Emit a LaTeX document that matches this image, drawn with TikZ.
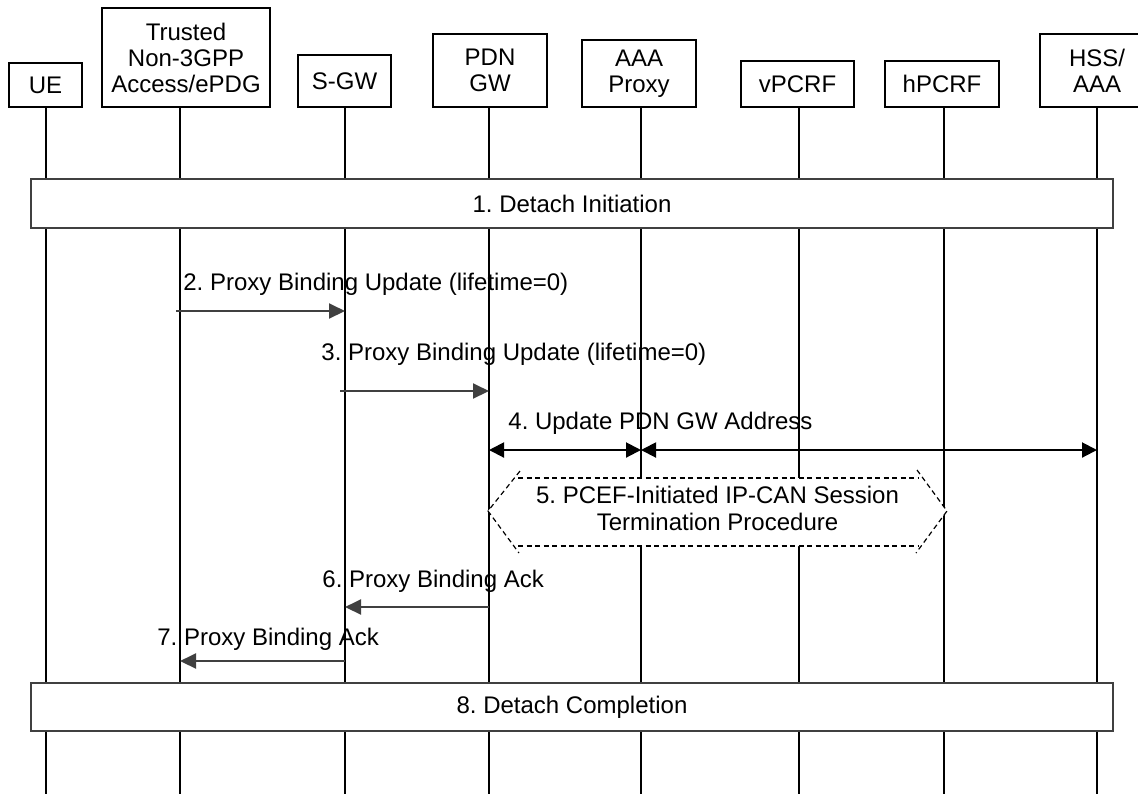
\documentclass[tikz,border=0pt]{standalone}
\usepackage{fontspec}
\setmainfont{Liberation Sans}
\usetikzlibrary{arrows.meta}
\definecolor{dgray}{RGB}{64,64,64}
\frenchspacing
\begin{document}
\frenchspacing
\begin{tikzpicture}[x=0.5pt,y=-0.5pt,
  font=\fontsize{12pt}{13pt}\selectfont\frenchspacing,
  actor/.style={draw=black, line width=0.6pt, fill=white, align=center, inner sep=0pt},
  life/.style={line width=0.6pt, black},
  phase/.style={draw=dgray, line width=0.6pt, fill=white, inner sep=0pt, minimum width=541pt},
  msg/.style={dgray, line width=1pt, -{Triangle[length=8pt,width=7.5pt]}},
  dmsg/.style={black, line width=1pt, {Triangle[length=7.5pt,width=7.5pt]}-{Triangle[length=7.5pt,width=7.5pt]}},
  hexd/.style={black, line width=0.6pt, dash pattern=on 2.5pt off 1.75pt},
  lbl/.style={anchor=base west, inner sep=0pt}]

\useasboundingbox (0,0) rectangle (1138,794);
\clip (0,0) rectangle (1138,794);

% lifeline tops
\coordinate (lUE) at (46,107);
\coordinate (lTr) at (180,107);
\coordinate (lSG) at (345,107);
\coordinate (lPG) at (489,107);
\coordinate (lAP) at (641,107);
\coordinate (lVP) at (799,107);
\coordinate (lHP) at (944,107);
\coordinate (lHS) at (1097,107);
\coordinate (bot) at (0,794);

\foreach \n in {lUE,lTr,lSG,lPG,lAP,lVP,lHP,lHS}
  \draw[life] (\n) -- (\n |- bot);

% header boxes
\node[actor, minimum width=36.5pt, minimum height=22pt] (ue) at (45.5,85) {UE};
\node[actor, minimum width=84pt, minimum height=49.5pt] (tr) at (186,57.5) {Trusted\\Non-3GPP\\Access/ePDG};
\node[actor, minimum width=46.5pt, minimum height=26pt] (sg) at (344.5,81) {S-GW};
\node[actor, minimum width=57pt, minimum height=36.5pt] (pg) at (490,70.5) {PDN\\GW};
\node[actor, minimum width=57pt, minimum height=33.5pt] (ap) at (639,73.5) {AAA\\Proxy};
\node[actor, minimum width=56.5pt, minimum height=23pt] (vp) at (797.5,84) {vPCRF};
\node[actor, minimum width=57pt, minimum height=23pt] (hp) at (942,84) {hPCRF};
\node[actor, minimum width=57pt, minimum height=36.5pt] (hs) at (1097,70.5) {HSS/\\AAA};

% phase boxes
\node[phase, minimum height=24.5pt] (p1) at (572,203.5) {1. Detach Initiation};
\node[phase, minimum height=24pt] (p8) at (572,707) {8. Detach Completion};

% message levels
\coordinate (y2) at (0,311);
\coordinate (y3) at (0,391);
\coordinate (y4) at (0,450);
\coordinate (y6) at (0,607);
\coordinate (y7) at (0,661);

% step 5 hexagon
\fill[white] (488,511) -- (518,478) -- (918,478) -- (947,511) -- (918,546) -- (518,546) -- cycle;
\draw[hexd] (518,478) -- (918,478);
\draw[hexd] (518,546) -- (918,546);
\draw[hexd] (520,471) -- (488,511) -- (519,553);
\draw[hexd] (917,470) -- (947,511) -- (916,553);
\node[align=center, inner sep=0pt, font=\fontsize{12pt}{13.5pt}\selectfont\frenchspacing] (m5) at (717.5,508)
  {5. PCEF-Initiated IP-CAN Session\\Termination Procedure};

% messages
\draw[msg] ([xshift=-2pt]lTr |- y2) -- (lSG |- y2);
\node[lbl] (m2) at (183,290) {2. Proxy Binding Update (lifetime=0)};

\draw[msg] ([xshift=-2.5pt]lSG |- y3) -- (lPG |- y3);
\node[lbl] (m3) at (321,360) {3. Proxy Binding Update (lifetime=0)};

\draw[dmsg] (lPG |- y4) -- (lAP |- y4);
\draw[dmsg] (lAP |- y4) -- (lHS |- y4);
\node[lbl] (m4) at (508,429) {4. Update PDN GW Address};

\draw[msg] (lPG |- y6) -- (lSG |- y6);
\node[lbl] (m6) at (322,587) {6. Proxy Binding Ack};

\draw[msg] (lSG |- y7) -- (lTr |- y7);
\node[lbl] (m7) at (157,645) {7. Proxy Binding Ack};

\end{tikzpicture}
\end{document}
